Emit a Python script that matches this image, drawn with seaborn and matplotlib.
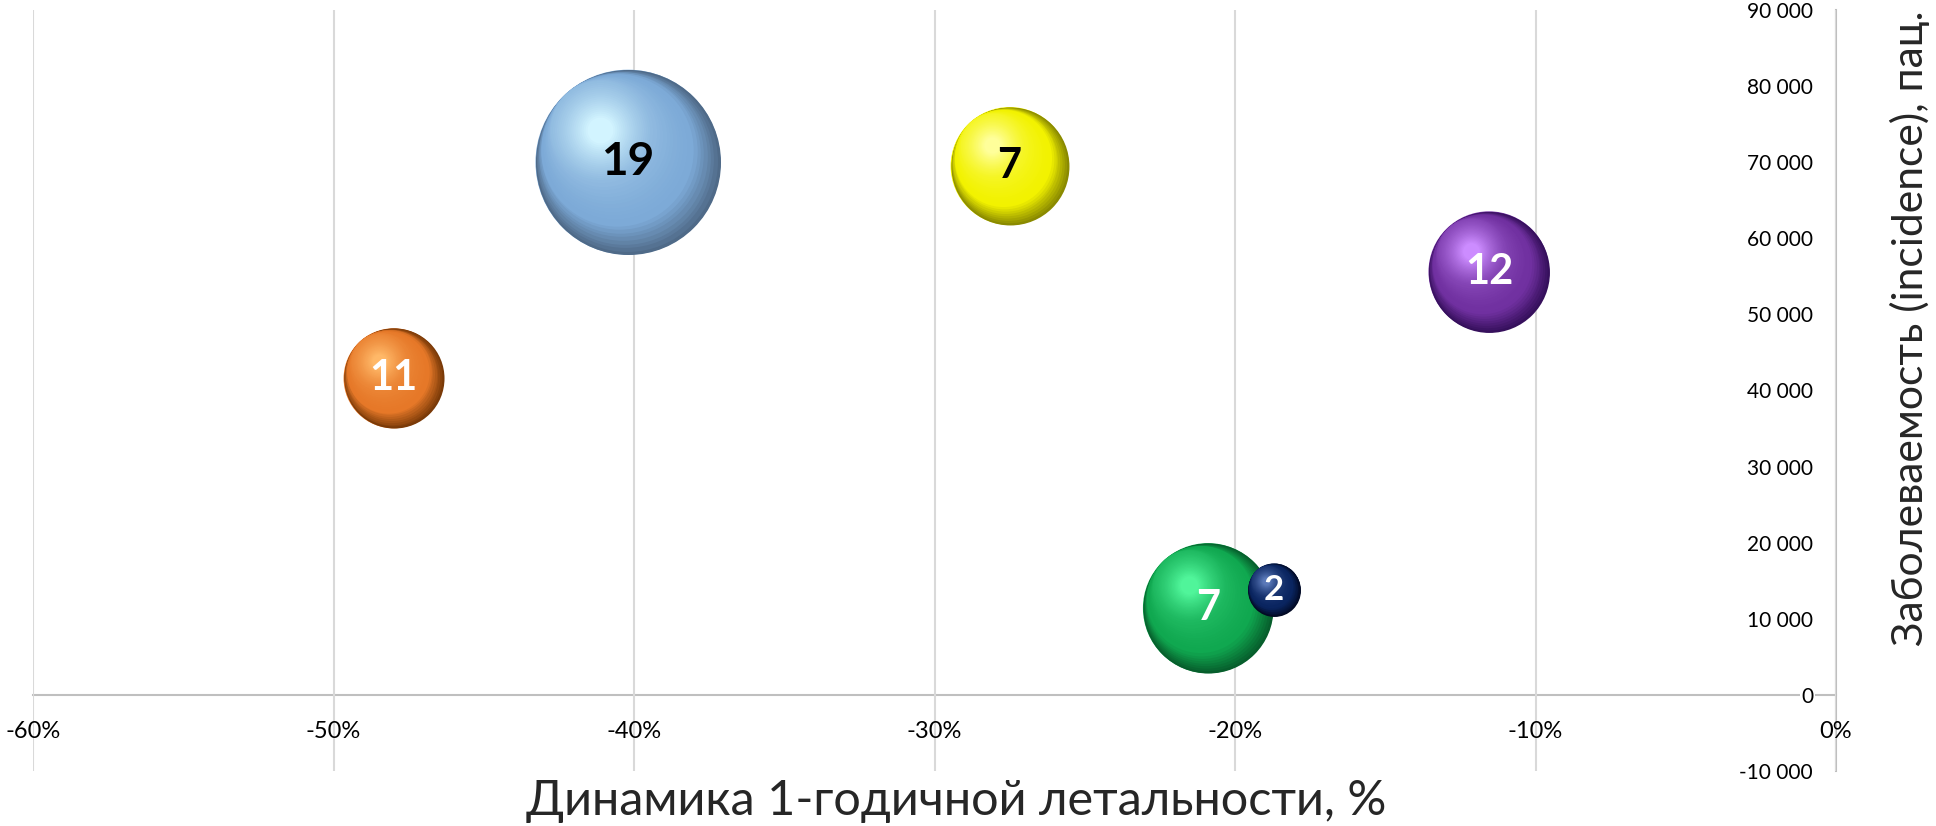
import numpy as np
import pandas as pd
import matplotlib
matplotlib.use("Agg")
import matplotlib.pyplot as plt
import seaborn as sns
from matplotlib.colors import to_rgb
from matplotlib.transforms import offset_copy

# --- data ---
series = ["S1", "S2", "S3", "S4", "S5", "S6"]
lethality_change = [-0.402, -0.480, -0.275, -0.1155, -0.209, -0.187]   # x, share
incidence = [70000, 41600, 69500, 55600, 11400, 13800]                # y, patients
bubble_size = [34.2, 10.0, 13.9, 14.6, 16.9, 2.8]                      # area units
bubble_label = ["19", "11", "7", "12", "7", "2"]

x_ticks = [-0.6, -0.5, -0.4, -0.3, -0.2, -0.1, 0.0]
y_ticks = [-10000, 0, 10000, 20000, 30000, 40000, 50000, 60000, 70000, 80000, 90000]

x_title = "Динамика 1-годичной летальности, %"
y_title = "Заболеваемость (incidence), пац."

# --- styling ---
base_colors = ["#7DAAD7", "#E67828", "#F2F200", "#7030A0", "#10A850", "#0A2560"]
dark_colors = ["#4F6A88", "#7A3A08", "#8A8A00", "#36105C", "#075E2C", "#020A24"]
light_colors = ["#D2F4FF", "#FFB868", "#FFFF9A", "#CC8CFF", "#50F59A", "#5A78B8"]
label_colors = ["black", "white", "black", "white", "white", "white"]
label_fs = [33, 30, 30, 30, 30, 25]
max_diam_px = 185
DPI = 100

sns.set_theme(style="white")
plt.rcParams["font.family"] = ["Lato", "DejaVu Sans"]

df = pd.DataFrame({
    "series": series,
    "x": lethality_change,
    "y": incidence,
    "size": bubble_size,
})

fig = plt.figure(figsize=(19.36, 8.26), dpi=DPI)
ax = fig.add_axes([33 / 1936, 55 / 826, (1836 - 33) / 1936, (771 - 10) / 826])

max_area = (max_diam_px * 72 / DPI) ** 2
sns.scatterplot(data=df, x="x", y="y", hue="series", size="size",
                palette=dict(zip(series, base_colors)),
                sizes=(0, max_area), size_norm=(0, max(bubble_size)),
                linewidth=0, legend=False, ax=ax, zorder=3)

# sphere-like shading on top of the seaborn bubbles
areas = ax.collections[0].get_sizes()
n_layers = 40
direction = np.array([-0.65, 0.76])
for i in range(len(df)):
    d = np.sqrt(areas[i])
    base = np.array(to_rgb(base_colors[i]))
    dark = np.array(to_rgb(dark_colors[i]))
    light = np.array(to_rgb(light_colors[i]))
    for k in range(n_layers):
        t = k / (n_layers - 1)
        frac = 1 - 0.86 * t
        off = min(0.86 * t, 0.46) * d / 2
        if t < 0.2:
            c = dark + (base - dark) * (t / 0.2)
        else:
            c = base + (light - base) * ((t - 0.2) / 0.8) ** 1.6
        tr = offset_copy(ax.transData, fig=fig, x=direction[0] * off,
                         y=direction[1] * off, units="points")
        ax.scatter([df.x[i]], [df.y[i]], s=(d * frac) ** 2, color=np.clip(c, 0, 1),
                   linewidths=0, transform=tr, zorder=4 + i)
    ax.text(df.x[i], df.y[i], bubble_label[i], ha="center", va="center",
            fontsize=label_fs[i], fontweight="bold", color=label_colors[i],
            zorder=4 + i + 0.5)

ax.set_xlim(-0.6, 0.0)
ax.set_ylim(-10000, 90000)
ax.set_xticks(x_ticks)
ax.set_xticklabels([f"{int(round(v * 100))}%" for v in x_ticks])
ax.set_yticks(y_ticks)
ax.set_yticklabels([f"{v:,}".replace(",", " ") for v in y_ticks])

ax.grid(axis="x", color="#D9D9D9", linewidth=1.5)
ax.grid(axis="y", visible=False)
ax.set_axisbelow(True)

for s in ["top", "left"]:
    ax.spines[s].set_visible(False)
ax.spines["bottom"].set_position(("data", 0))
for s in ["bottom", "right"]:
    ax.spines[s].set_color("#BFBFBF")
    ax.spines[s].set_linewidth(1.5)
    ax.spines[s].set_zorder(0.3)  # keep the axis lines under the tick labels

ax.yaxis.tick_right()
ax.tick_params(axis="y", length=0, pad=-16.5, labelsize=15, colors="black")
ax.tick_params(axis="x", length=0, pad=19, labelsize=17, colors="black")
for lab in ax.get_yticklabels():
    lab.set_ha("right")
    lab.set_bbox(dict(facecolor="white", edgecolor="none", pad=1))
ax.set_xlabel("")
ax.set_ylabel("")

fig.text(956 / 1936, 11 / 826, x_title, ha="center", va="baseline", fontsize=35)
fig.text(1923 / 1936, 1 - 328 / 826, y_title, ha="center", va="baseline",
         rotation=90, rotation_mode="anchor", fontsize=30.7)

fig.savefig("out.png", dpi=DPI, facecolor="white")
